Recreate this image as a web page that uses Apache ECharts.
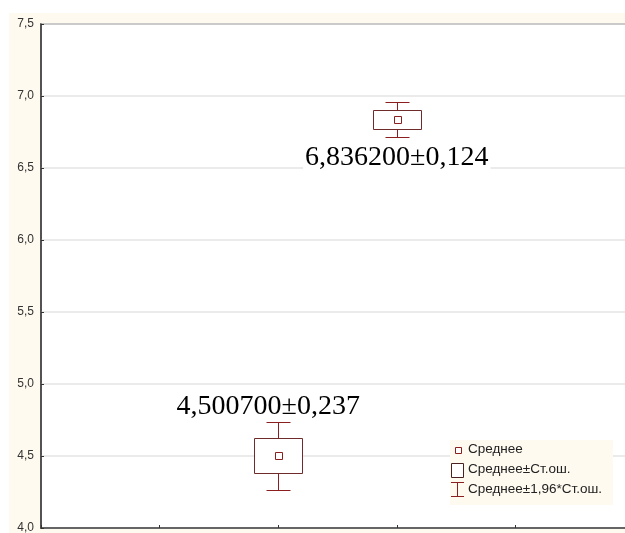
<!DOCTYPE html>
<html>
<head>
<meta charset="utf-8">
<script src="https://cdn.jsdelivr.net/npm/echarts@6/dist/echarts.min.js"></script>
<style>
  html, body { margin: 0; padding: 0; background: #ffffff; overflow: hidden; }
  #chart { width: 625px; height: 533px; }
</style>
</head>
<body>
<div id="chart"></div>
<script>
// Group positions on the x axis, group means and 95% half-widths (1.96*SE)
const groupX = [2, 3];
const means = [4.5007, 6.8362];
const ci95 = [0.237, 0.124];
const yTicks = [4.0, 4.5, 5.0, 5.5, 6.0, 6.5, 7.0, 7.5];
const legendLabels = ['Среднее', 'Среднее±Ст.ош.', 'Среднее±1,96*Ст.ош.'];

const CREAM = '#fffaf0';
const BOX_COLOR = '#6f2a2a';
const WHISKER_COLOR = '#8b1e1e';

const fmtComma = (v, d) => v.toFixed(d).replace('.', ',');

const seriesData = groupX.map((x, i) => [x, means[i], ci95[i] / 1.96, ci95[i]]);

// label placement per group: above the upper whisker or below the lower one
const labelPlace = [
  { side: 'top', dx: -10, gap: 16 },
  { side: 'bottom', dx: 0, gap: 20 }
];

const px = v => Math.round(v) + 0.5;

function renderItem(params, api) {
  const i = params.dataIndex;
  const x = api.value(0), m = api.value(1), se = api.value(2), ci = api.value(3);
  const c = api.coord([x, m]);
  const cx = px(c[0]);
  const cy = c[1];
  const wTop = px(api.coord([x, m + ci])[1]);
  const wBot = px(api.coord([x, m - ci])[1]);
  const bTop = px(api.coord([x, m + se])[1]);
  const bBot = px(api.coord([x, m - se])[1]);
  const boxHalf = 24, capHalf = 12, mk = 3.5;
  const place = labelPlace[i];
  const labelY = place.side === 'top' ? wTop - place.gap : wBot + place.gap;
  const text = fmtComma(m, 6) + '±' + fmtComma(ci, 3);
  const lineStyle = { stroke: WHISKER_COLOR, lineWidth: 1, fill: null };
  return {
    type: 'group',
    children: [
      { type: 'line', shape: { x1: cx, y1: wTop, x2: cx, y2: bTop }, style: lineStyle },
      { type: 'line', shape: { x1: cx, y1: bBot, x2: cx, y2: wBot }, style: lineStyle },
      { type: 'line', shape: { x1: cx - capHalf, y1: wTop, x2: cx + capHalf, y2: wTop }, style: lineStyle },
      { type: 'line', shape: { x1: cx - capHalf, y1: wBot, x2: cx + capHalf, y2: wBot }, style: lineStyle },
      { type: 'rect', shape: { x: cx - boxHalf, y: bTop, width: boxHalf * 2, height: bBot - bTop },
        style: { stroke: BOX_COLOR, lineWidth: 1, fill: '#ffffff' } },
      { type: 'rect', shape: { x: px(cx - mk), y: px(cy - mk), width: 7, height: 7 },
        style: { stroke: WHISKER_COLOR, lineWidth: 1, fill: '#ffffff' } },
      { type: 'text', x: c[0] + place.dx, y: labelY,
        style: { text: text, fontFamily: '"Liberation Serif", "Times New Roman", serif', fontSize: 28,
                 fill: '#000000', align: 'center', verticalAlign: 'middle',
                 backgroundColor: '#ffffff', padding: [0, 2] } }
    ]
  };
}

const legendX = 450, legendY = 440;
const legendGraphic = {
  type: 'group',
  children: [
    { type: 'rect', shape: { x: legendX, y: legendY, width: 163, height: 65 }, style: { fill: CREAM }, z: 100 },
    { type: 'rect', shape: { x: 455.5, y: 447.5, width: 6, height: 6 },
      style: { stroke: WHISKER_COLOR, lineWidth: 1, fill: '#ffffff' }, z: 101 },
    { type: 'rect', shape: { x: 451.5, y: 463.5, width: 12, height: 14 },
      style: { stroke: '#4a2020', lineWidth: 1, fill: '#ffffff' }, z: 101 },
    { type: 'line', shape: { x1: 457.5, y1: 482.5, x2: 457.5, y2: 496.5 }, style: { stroke: WHISKER_COLOR, lineWidth: 1 }, z: 101 },
    { type: 'line', shape: { x1: 451, y1: 482.5, x2: 464, y2: 482.5 }, style: { stroke: WHISKER_COLOR, lineWidth: 1 }, z: 101 },
    { type: 'line', shape: { x1: 451, y1: 496.5, x2: 464, y2: 496.5 }, style: { stroke: WHISKER_COLOR, lineWidth: 1 }, z: 101 }
  ].concat(legendLabels.map((t, k) => ({
    type: 'text', x: 468, y: 449 + k * 20, z: 101,
    style: { text: t, fontFamily: '"Liberation Sans", Arial, sans-serif', fontSize: 13.5,
             fill: '#222222', verticalAlign: 'middle' }
  })))
};

const chart = echarts.init(document.getElementById('chart'), null, { renderer: 'canvas' });
chart.setOption({
  backgroundColor: '#ffffff',
  animation: false,
  graphic: [
    { type: 'rect', left: 9, top: 13, shape: { width: 616, height: 520 }, style: { fill: CREAM }, z: -10 },
    legendGraphic
  ],
  grid: {
    left: 41, top: 24, width: 593, bottom: 5,
    outerBoundsMode: 'none',
    show: true, backgroundColor: '#ffffff', borderColor: '#555555', borderWidth: 1.5,
    containLabel: false
  },
  xAxis: {
    type: 'value', min: 0, max: 5, interval: 1,
    axisLine: { show: true, lineStyle: { color: '#444444', width: 1.5 } },
    axisTick: { show: true, inside: true, length: 3, lineStyle: { color: '#333333' } },
    axisLabel: { show: false },
    splitLine: { show: false }
  },
  yAxis: {
    type: 'value', min: yTicks[0], max: yTicks[yTicks.length - 1], interval: 0.5,
    axisLine: { show: true, lineStyle: { color: '#444444', width: 1.5 } },
    axisTick: { show: true, inside: true, length: 3, lineStyle: { color: '#333333' } },
    axisLabel: { show: true, margin: 7, color: '#333333', fontSize: 12,
                 fontFamily: '"Liberation Sans", Arial, sans-serif',
                 formatter: v => fmtComma(v, 1) },
    splitLine: { show: true, lineStyle: { color: '#e4e4e4', width: 1.5 } }
  },
  series: [{
    type: 'custom',
    renderItem: renderItem,
    data: seriesData,
    clip: false,
    z: 10
  }]
});
</script>
</body>
</html>
